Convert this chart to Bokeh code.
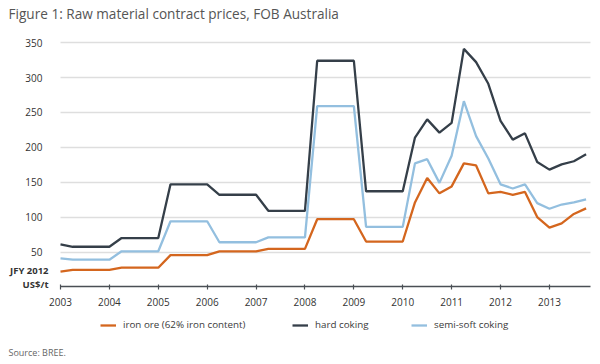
from bokeh.plotting import figure
from bokeh.models import Range1d, FixedTicker, Legend, LegendItem, Label, Grid
from bokeh.embed import file_html
from bokeh.resources import INLINE

# ---- data (quarterly, starting 2003 Q1) ----
start_year = 2003
quarters_per_year = 4
iron_ore = [22, 24.5, 24.5, 24.5, 24.5, 27.5, 27.5, 27.5, 27.5,
            45.5, 45.5, 45.5, 45.5, 51, 51, 51, 51, 54.5, 54.5, 54.5, 54.5,
            97, 97, 97, 97, 65, 65, 65, 65,
            121, 156, 134, 144, 177, 174, 134, 136, 132, 136, 100, 85, 91, 104.5, 112.5]
hard_coking = [61, 57.5, 57.5, 57.5, 57.5, 70, 70, 70, 70,
               147, 147, 147, 147, 132, 132, 132, 132, 109, 109, 109, 109,
               324, 324, 324, 324, 137, 137, 137, 137,
               214, 240, 221, 235, 341, 322, 291, 238, 211, 220, 179, 168, 175.5, 180, 190]
semi_soft = [41, 39, 39, 39, 39, 51, 51, 51, 51,
             94, 94, 94, 94, 64, 64, 64, 64, 71, 71, 71, 71,
             259, 259, 259, 259, 86, 86, 86, 86,
             177, 183, 149, 188, 266, 216, 184, 147, 141, 147, 120, 112, 118, 121, 125.5]
x_ticks = list(range(2003, 2014))
y_ticks = [50, 100, 150, 200, 250, 300, 350]
series_names = ["iron ore (62% iron content)", "hard coking", "semi-soft coking"]
title_text = "Figure 1: Raw material contract prices, FOB Australia"
unit_lines = ["JFY 2012", "US$/t"]
source_text = "Source: BREE."

x = [start_year + i / quarters_per_year for i in range(len(iron_ore))]

# ---- layout (pixels) ----
W, H = 600, 364
X_START, X_END = 2003, 2013.84          # axis extent
PX_LEFT, PX_RIGHT = 60, 590              # where the axis extent sits on the canvas
PX_ZERO, PX_PER_UNIT = 286.4, 0.698      # y=0 position and y scale
xs = (PX_RIGHT - PX_LEFT) / (X_END - X_START)
x0 = X_START - PX_LEFT / xs
x1 = X_END + (W - PX_RIGHT) / xs
y0 = -(H - PX_ZERO) / PX_PER_UNIT
y1 = PX_ZERO / PX_PER_UNIT

ORANGE = "#d4661e"
DARK = "#353f49"
BLUE = "#93bfdf"
FONT = "Open Sans"
TXT = "#333333"

p = figure(width=W, height=H, output_backend="svg", toolbar_location=None,
           x_range=Range1d(x0, x1), y_range=Range1d(y0, y1),
           min_border=0, min_border_left=0, min_border_right=0,
           min_border_top=0, min_border_bottom=0)
p.outline_line_color = None
p.background_fill_color = "white"
p.border_fill_color = "white"

# grid
p.xgrid.grid_line_color = None
p.ygrid.ticker = FixedTicker(ticks=y_ticks)
p.ygrid.grid_line_color = "#dedede"
p.ygrid.grid_line_width = 1.5
if "cross_bounds" in Grid.properties():
    p.ygrid.cross_bounds = (X_START, X_END)

# axes drawn inside the frame
p.yaxis.fixed_location = X_START
p.yaxis.ticker = FixedTicker(ticks=y_ticks)
p.yaxis.axis_line_color = None
p.yaxis.major_tick_line_color = None
p.yaxis.minor_tick_line_color = None
p.yaxis.major_label_standoff = 12
p.yaxis.major_label_text_font = FONT
p.yaxis.major_label_text_font_size = "10px"
p.yaxis.major_label_text_color = TXT

p.xaxis.fixed_location = 0
p.xaxis.bounds = (X_START, X_END)
p.xaxis.ticker = FixedTicker(ticks=x_ticks)
p.xaxis.axis_line_color = "#4a4f55"
p.xaxis.axis_line_width = 1.5
p.xaxis.major_tick_line_color = "#4a4f55"
p.xaxis.major_tick_line_width = 1.2
p.xaxis.major_tick_in = 2
p.xaxis.major_tick_out = 3
p.xaxis.minor_tick_line_color = None
p.xaxis.major_label_standoff = 8
p.xaxis.major_label_text_font = FONT
p.xaxis.major_label_text_font_size = "10px"
p.xaxis.major_label_text_color = TXT

r_iron = p.line(x, iron_ore, line_color=ORANGE, line_width=2.3)
r_hard = p.line(x, hard_coking, line_color=DARK, line_width=2.3)
r_semi = p.line(x, semi_soft, line_color=BLUE, line_width=2.3)

# legend: one block per entry (screen position of glyph start)
for r, name, gx in zip([r_iron, r_hard, r_semi], series_names, [100, 292, 411]):
    lg = Legend(items=[LegendItem(label=name, renderers=[r])], location=(gx, 33),
                orientation="horizontal", glyph_width=16, glyph_height=12,
                label_height=12, label_width=10,
                label_standoff=7, padding=0, margin=0, spacing=0,
                border_line_color=None, background_fill_alpha=0,
                label_text_font=FONT, label_text_font_size="9.8px",
                label_text_color="#3a3a3a")
    p.add_layout(lg)

def screen_label(text, sx, page_y, size, color=TXT, style="normal", align="left"):
    lab = Label(x=sx, y=H - page_y, x_units="screen", y_units="screen", text=text,
                text_font=FONT, text_font_size=size, text_font_style=style,
                text_color=color, text_align=align, text_baseline="middle")
    if "anchor" in Label.properties():
        lab.anchor = "center_right" if align == "right" else "center_left"
    p.add_layout(lab)

screen_label(title_text, 8, 13, "13.6px", color="#555555")
screen_label(unit_lines[0], 48, 270, "9.5px", style="bold", align="right")
screen_label(unit_lines[1], 48, 284, "9.5px", style="bold", align="right")
screen_label(source_text, 8, 352, "9px", color="#666666")

open("out.html", "w").write(file_html(p, INLINE))
